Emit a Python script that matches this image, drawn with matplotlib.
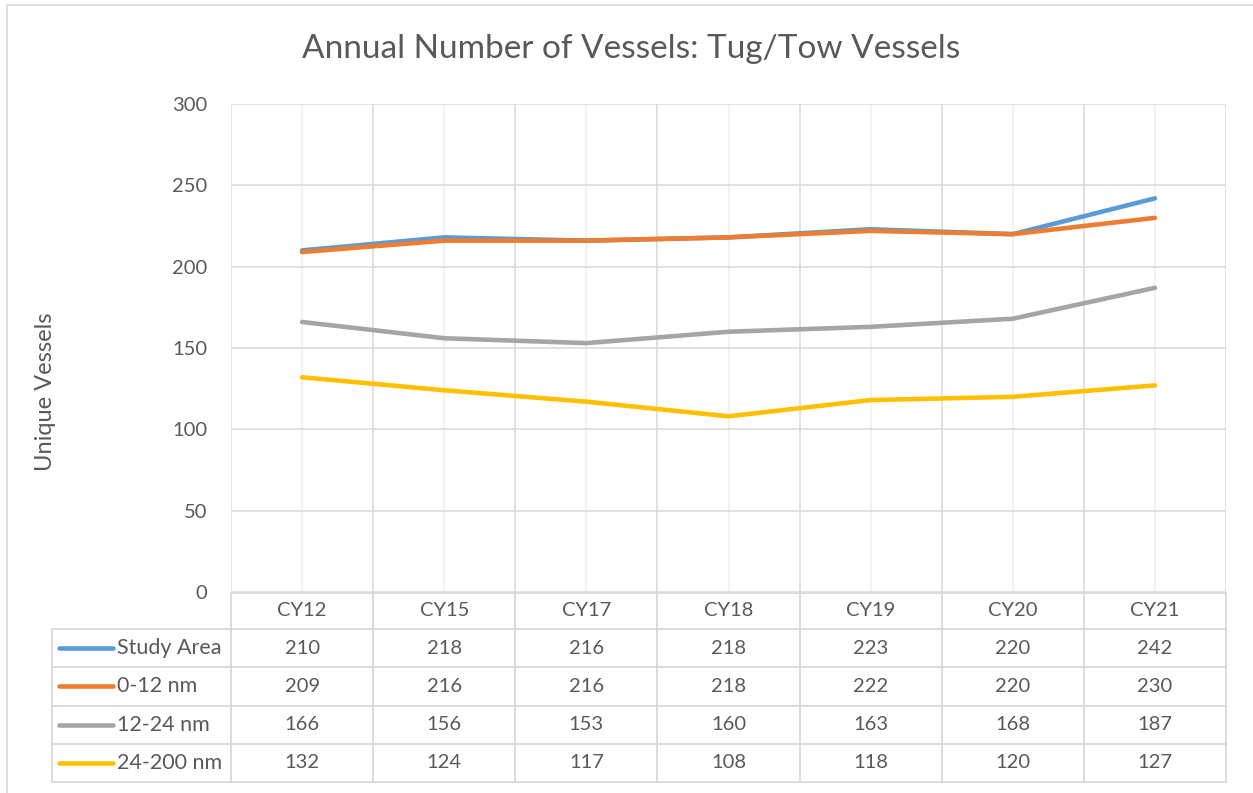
import matplotlib
matplotlib.use("Agg")
import matplotlib.pyplot as plt
import numpy as np

categories = ["CY12", "CY15", "CY17", "CY18", "CY19", "CY20", "CY21"]
series_names = ["Study Area", "0-12 nm", "12-24 nm", "24-200 nm"]
study_area = [210, 218, 216, 218, 223, 220, 242]
nm_0_12 = [209, 216, 216, 218, 222, 220, 230]
nm_12_24 = [166, 156, 153, 160, 163, 168, 187]
nm_24_200 = [132, 124, 117, 108, 118, 120, 127]
colors = ["#5B9BD5", "#ED7D31", "#A5A5A5", "#FFC000"]
yticks = [0, 50, 100, 150, 200, 250, 300]

series = [study_area, nm_0_12, nm_12_24, nm_24_200]

W, H = 1253, 793
plt.rcParams['font.family'] = ['Lato', 'DejaVu Sans']
TXT = "#595959"
GRID = "#d9d9d9"
MINOR = "#efefef"

fig = plt.figure(figsize=(W / 100, H / 100), dpi=100)

def fx(px):
    return px / W

def fy(py):
    return 1 - py / H

# outer chart border
fig.add_artist(plt.Line2D([fx(7), fx(7), fx(W + 5)], [fy(H + 5), fy(5), fy(5)],
                          color=GRID, lw=1.2, transform=fig.transFigure))

L, R, T, B = 231, 1226, 104, 592
ax = fig.add_axes([fx(L), fy(B), fx(R - L), (B - T) / H])
n = len(categories)
x = np.arange(n)
ax.set_xlim(-0.5, n - 0.5)
ax.set_ylim(0, 300)

for v in np.arange(n + 1) - 0.5:
    ax.axvline(v, color=GRID, lw=1.1, zorder=1)
for v in x:
    ax.axvline(v, color=MINOR, lw=1.1, zorder=0.9)
for v in yticks:
    ax.axhline(v, color=GRID, lw=1.1, zorder=1)

for vals, c in zip(series, colors):
    ax.plot(x, vals, color=c, lw=3.3, solid_capstyle='round', solid_joinstyle='round', zorder=3)

for s in ax.spines.values():
    s.set_visible(False)
ax.set_xticks([])
ax.set_yticks(yticks)
ax.set_yticklabels([str(v) for v in yticks])
ax.tick_params(axis='y', length=0, pad=17, labelsize=14.5, labelcolor=TXT)

fig.text(fx(631), fy(49), "Annual Number of Vessels: Tug/Tow Vessels", ha='center', va='center',
         fontsize=24, color=TXT)
fig.text(fx(46), fy(392), "Unique Vessels", ha='center', va='center', rotation=90,
         fontsize=17, color=TXT)

# data table
TL, TT, TB = 52, 593, 782
tax = fig.add_axes([fx(TL), fy(TB), fx(R - TL), (TB - TT) / H])
s = n / (R - L)
xl = -0.5 - (L - TL) * s
tax.set_xlim(xl, n - 0.5)
tax.set_ylim(TB - TT, 0)
tax.axis('off')
hdr = 36
rh = (TB - TT - hdr) / len(series)
rows = [hdr + rh * i for i in range(len(series) + 1)]

lk = dict(color=GRID, lw=1.3, clip_on=False)
for v in np.arange(n + 1) - 0.5:
    tax.plot([v, v], [0, rows[-1]], **lk)
tax.plot([xl, xl], [hdr, rows[-1]], **lk)
tax.plot([-0.5, n - 0.5], [0, 0], **lk)
for r in rows:
    tax.plot([xl, n - 0.5], [r, r], **lk)

for i, c in enumerate(categories):
    tax.text(i, hdr / 2, c, ha='center', va='center', fontsize=14.5, color=TXT)

for j, (name, vals, c) in enumerate(zip(series_names, series, colors)):
    yc = (rows[j] + rows[j + 1]) / 2
    tax.plot([xl + 7 * s, xl + 61 * s], [yc, yc], color=c, lw=3.3, solid_capstyle='round', clip_on=False)
    tax.text(xl + 65 * s, yc, name, ha='left', va='center', fontsize=15.5, color=TXT)
    for i, v in enumerate(vals):
        tax.text(i, yc, str(v), ha='center', va='center', fontsize=14.5, color=TXT)

fig.savefig("out.png", dpi=100, facecolor="white")
